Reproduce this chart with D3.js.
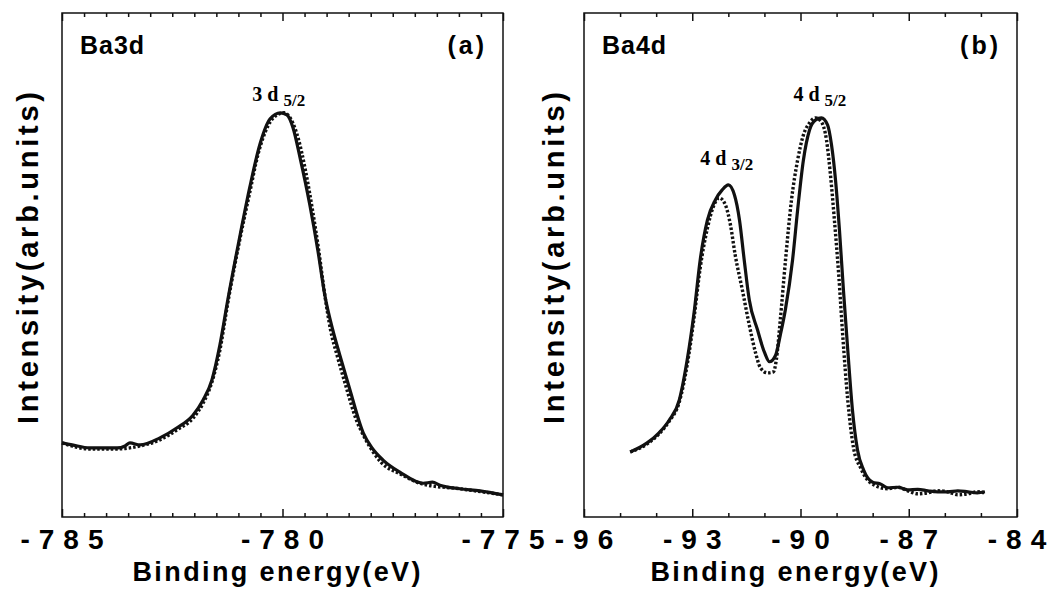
<!DOCTYPE html>
<html>
<head>
<meta charset="utf-8">
<script src="https://cdn.jsdelivr.net/npm/d3@7"></script>
<style>
  body { margin: 0; background: #fff; }
  svg { display: block; }
</style>
</head>
<body>
<svg id="chart" width="1060" height="595"></svg>
<script>
// ---- data (binding energy in eV, intensity in arb. units) ----
const ba3dSolidE = [-785.00, -784.77, -784.37, -783.75, -783.57, -783.46, -783.23, -782.78, -782.39, -782.03, -781.80, -781.60, -781.42, -781.24, -780.96, -780.74, -780.51, -780.28, -780.05, -779.90, -779.76, -779.60, -779.38, -779.20, -779.04, -778.86, -778.70, -778.47, -778.17, -777.97, -777.72, -777.34, -776.81, -776.60, -776.43, -775.98, -775.52, -775.00];
const ba3dSolidI = [14.7, 14.3, 13.7, 13.7, 14.1, 14.7, 14.3, 15.7, 17.7, 20.2, 23.2, 27.2, 34.1, 43.1, 56.0, 65.5, 74.0, 79.0, 80.2, 79.8, 77.2, 71.2, 61.9, 53.0, 44.0, 37.1, 32.1, 25.2, 16.7, 13.7, 11.3, 8.9, 6.7, 6.9, 6.3, 5.6, 5.2, 4.4];

const ba3dDotE = [-785.00, -784.37, -783.75, -783.23, -782.78, -782.39, -782.03, -781.80, -781.60, -781.42, -781.24, -780.96, -780.74, -780.56, -780.33, -780.12, -779.96, -779.80, -779.64, -779.48, -779.32, -779.18, -779.04, -778.91, -778.75, -778.57, -778.34, -778.11, -777.77, -777.32, -776.81, -775.98, -775.00];
const ba3dDotI = [14.7, 13.5, 13.5, 14.1, 15.3, 17.3, 19.6, 22.6, 26.8, 33.1, 42.5, 55.4, 64.5, 71.8, 77.6, 79.8, 80.2, 78.8, 75.0, 68.8, 60.9, 53.0, 44.0, 37.1, 31.7, 26.2, 19.6, 15.3, 10.9, 8.5, 6.5, 5.6, 4.4];

const ba4dSolidE = [-94.72, -94.25, -93.92, -93.64, -93.36, -93.14, -92.94, -92.78, -92.58, -92.36, -92.17, -92.00, -91.83, -91.69, -91.56, -91.42, -91.19, -91.00, -90.86, -90.69, -90.56, -90.42, -90.22, -90.08, -89.92, -89.75, -89.58, -89.42, -89.25, -89.14, -89.03, -88.92, -88.81, -88.69, -88.56, -88.42, -88.25, -88.00, -87.80, -87.58, -87.30, -87.03, -86.75, -86.47, -86.20, -85.92, -85.64, -85.36, -85.10, -84.89];
const ba4dSolidI = [12.9, 14.7, 16.7, 19.2, 23.2, 31.2, 41.1, 51.0, 58.9, 62.9, 64.9, 65.9, 63.9, 58.9, 51.0, 43.1, 37.1, 32.7, 30.8, 32.1, 36.1, 41.1, 51.0, 60.9, 70.8, 76.8, 78.8, 79.2, 77.8, 73.8, 66.9, 56.9, 45.0, 33.1, 21.2, 13.3, 9.3, 6.9, 6.6, 5.8, 5.9, 5.4, 5.5, 5.2, 5.0, 5.0, 5.2, 5.0, 4.8, 5.0];

const ba4dDotE = [-94.72, -94.25, -93.92, -93.64, -93.36, -93.14, -92.94, -92.78, -92.58, -92.42, -92.25, -92.08, -91.94, -91.81, -91.61, -91.42, -91.25, -91.11, -90.92, -90.75, -90.67, -90.56, -90.42, -90.25, -90.08, -89.92, -89.75, -89.58, -89.42, -89.28, -89.17, -89.06, -88.94, -88.83, -88.69, -88.53, -88.33, -88.08, -87.58, -87.30, -87.03, -86.75, -86.47, -86.20, -85.92, -85.64, -85.36, -85.10, -84.89];
const ba4dDotI = [12.9, 14.5, 16.5, 19.0, 22.8, 30.2, 40.1, 49.4, 57.3, 61.5, 63.3, 61.9, 57.9, 52.0, 45.0, 38.1, 32.7, 29.6, 28.6, 28.8, 31.2, 39.1, 50.6, 62.9, 70.8, 75.8, 78.2, 79.2, 78.4, 74.8, 67.9, 58.9, 48.0, 36.1, 23.2, 13.7, 9.7, 6.9, 5.6, 5.9, 5.2, 4.6, 4.8, 5.2, 5.0, 4.4, 4.6, 5.0, 4.8];

const ba3dTicks = [-785, -780, -775];
const ba4dTicks = [-96, -93, -90, -87, -84];

// ---- layout ----
const svg = d3.select('#chart');
const plotTop = 13, plotBottom = 517;

const panels = [
  { left: 62, right: 503, domain: [-785, -775], minor: 0.5, major: ba3dTicks,
    name: 'Ba3d', tag: '(a)', yTitleX: 38,
    solid: [ba3dSolidE, ba3dSolidI], dot: [ba3dDotE, ba3dDotI],
    peaks: [{ e: -780.05, i: 80.2, main: '3 d', sub: '5/2', dy: 12 }] },
  { left: 584, right: 1017, domain: [-96, -84], minor: 1, major: ba4dTicks,
    name: 'Ba4d', tag: '(b)', yTitleX: 564,
    solid: [ba4dSolidE, ba4dSolidI], dot: [ba4dDotE, ba4dDotI],
    peaks: [{ e: -92.0, i: 65.9, main: '4 d', sub: '3/2', dy: 20 },
            { e: -89.42, i: 79.2, main: '4 d', sub: '5/2', dy: 17 }] }
];

panels.forEach(function (p) {
  const x = d3.scaleLinear().domain(p.domain).range([p.left, p.right]);
  const y = d3.scaleLinear().domain([0, 100]).range([plotBottom, plotTop]);
  const g = svg.append('g');

  // frame
  g.append('rect')
    .attr('x', p.left).attr('y', plotTop)
    .attr('width', p.right - p.left).attr('height', plotBottom - plotTop)
    .attr('fill', 'none').attr('stroke', '#111').attr('stroke-width', 1.5);

  // ticks, bottom and top, pointing inward
  const tickVals = d3.range(p.domain[0], p.domain[1] + 1e-9, p.minor);
  const isMajor = v => p.major.some(m => Math.abs(m - v) < 1e-6);
  const bAxis = d3.axisBottom(x).tickValues(tickVals).tickFormat('').tickSizeOuter(0);
  const tAxis = d3.axisTop(x).tickValues(tickVals).tickFormat('').tickSizeOuter(0);
  [[bAxis, plotBottom, -1], [tAxis, plotTop, 1]].forEach(function (a) {
    const ax = g.append('g').attr('transform', 'translate(0,' + a[1] + ')').call(a[0]);
    ax.select('.domain').remove();
    ax.selectAll('.tick line')
      .attr('stroke', '#111').attr('stroke-width', 1.5)
      .attr('y2', d => a[2] * (isMajor(d) ? 8 : 4));
  });

  // tick labels
  g.selectAll('.tlab').data(p.major).enter().append('text')
    .attr('x', d => x(d))
    .attr('y', 549)
    .attr('text-anchor', 'middle')
    .attr('font-family', 'Liberation Sans, Arial, sans-serif')
    .attr('font-weight', 'bold')
    .attr('font-size', 28)
    .attr('letter-spacing', 9)
    .attr('dx', 4.5)
    .text(d => String(d));

  // axis titles
  g.append('text')
    .attr('x', (p.left + p.right) / 2 - 6).attr('y', 581)
    .attr('text-anchor', 'middle')
    .attr('font-family', 'Liberation Sans, Arial, sans-serif')
    .attr('font-weight', 'bold').attr('font-size', 27)
    .attr('textLength', 288).attr('lengthAdjust', 'spacing')
    .text('Binding  energy(eV)');

  g.append('text')
    .attr('transform', 'translate(' + p.yTitleX + ',258) rotate(-90)')
    .attr('text-anchor', 'middle')
    .attr('font-family', 'Liberation Sans, Arial, sans-serif')
    .attr('font-weight', 'bold').attr('font-size', 29)
    .attr('textLength', 332).attr('lengthAdjust', 'spacing')
    .text('Intensity(arb.units)');

  // panel labels
  g.append('text')
    .attr('x', p.left + 18).attr('y', 54)
    .attr('font-family', 'Liberation Sans, Arial, sans-serif')
    .attr('font-weight', 'bold').attr('font-size', 25)
    .attr('letter-spacing', 1)
    .text(p.name);
  g.append('text')
    .attr('x', p.right - 16).attr('y', 54)
    .attr('text-anchor', 'end')
    .attr('font-family', 'Liberation Sans, Arial, sans-serif')
    .attr('font-weight', 'bold').attr('font-size', 25)
    .attr('letter-spacing', 3)
    .text(p.tag);

  // curves
  const line = d3.line()
    .x(d => x(d[0]))
    .y(d => y(d[1]))
    .curve(d3.curveMonotoneX);

  const solidPts = d3.zip(p.solid[0], p.solid[1]);
  const dotPts = d3.zip(p.dot[0], p.dot[1]);

  g.append('path').datum(dotPts)
    .attr('d', line).attr('fill', 'none')
    .attr('stroke', '#111').attr('stroke-width', 3.4)
    .attr('stroke-dasharray', '2.5,2');

  g.append('path').datum(solidPts)
    .attr('d', line).attr('fill', 'none')
    .attr('stroke', '#111').attr('stroke-width', 3.2);

  // peak labels
  p.peaks.forEach(function (pk) {
    const t = g.append('text')
      .attr('x', x(pk.e) - 28).attr('y', y(pk.i) - pk.dy)
      .attr('font-family', 'Liberation Serif, Times New Roman, serif')
      .attr('font-weight', 'bold').attr('font-size', 20);
    t.append('tspan').text(pk.main + ' ');
    t.append('tspan').attr('dy', 5).attr('font-size', 17).text(pk.sub);
  });
});
</script>
</body>
</html>
